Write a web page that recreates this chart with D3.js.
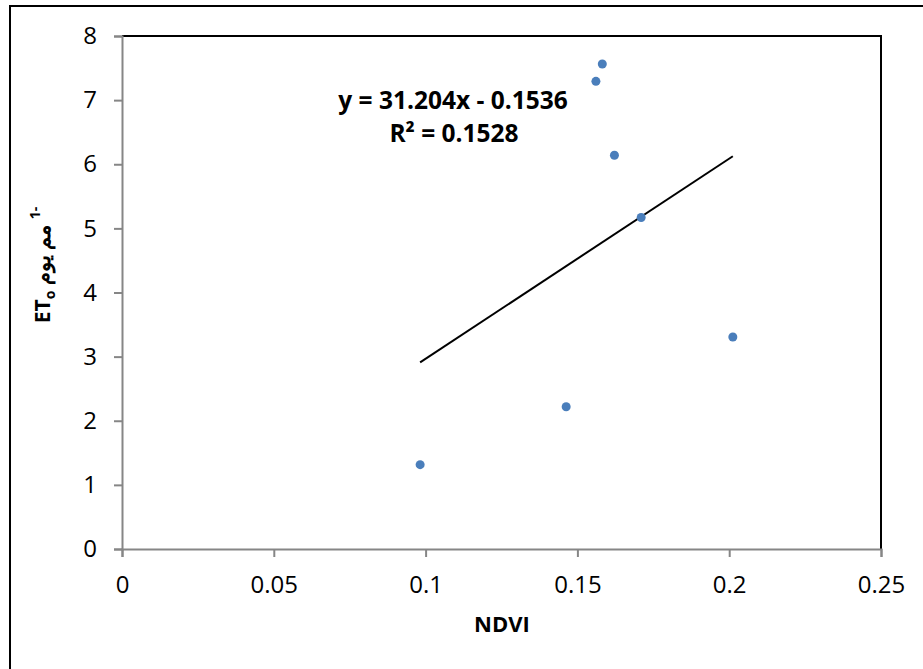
<!DOCTYPE html>
<html>
<head>
<meta charset="utf-8">
<script src="https://cdn.jsdelivr.net/npm/d3@7"></script>
<style>
  body { margin: 0; background: #fff; }
  text { font-family: "Open Sans", "Noto Sans", sans-serif; }
</style>
</head>
<body>
<svg></svg>
<script>
// ET0 vs NDVI scatter with linear trend
const width = 923;
const height = 669;

const ndvi = [0.0982, 0.1463, 0.2012, 0.171, 0.1622, 0.1561, 0.1582];
const et0 = [1.315, 2.219, 3.306, 5.17, 6.14, 7.293, 7.563];
const xTicks = [0, 0.05, 0.1, 0.15, 0.2, 0.25];
const yTicks = [0, 1, 2, 3, 4, 5, 6, 7, 8];
const slope = 31.204;
const intercept = -0.1536;

const plotLeft = 122, plotRight = 881, plotTop = 36, plotBottom = 549;

let svg = d3.select("svg")
    .attr("width", width)
    .attr("height", height)

// outer chart frame (cut off at right/bottom like the picture)
svg.append("rect")
    .attr("x", 10).attr("y", 6)
    .attr("width", 940).attr("height", 700)
    .attr("fill", "none")
    .attr("stroke", "#000")
    .attr("stroke-width", 2)

const x = d3.scaleLinear().domain([0, 0.25]).range([plotLeft, plotRight]);
const y = d3.scaleLinear().domain([0, 8]).range([plotBottom, plotTop]);

// plot area top/right border
svg.append("path")
    .attr("d", `M${plotLeft},${plotTop}H${plotRight}V${plotBottom}`)
    .attr("fill", "none")
    .attr("stroke", "#000")
    .attr("stroke-width", 2)

const xAxis = svg.append("g")
    .attr("transform", `translate(0,${plotBottom})`)
    .call(d3.axisBottom(x).tickValues(xTicks).tickSize(8).tickPadding(19)
        .tickFormat(d => String(+d.toFixed(2))));

const yAxis = svg.append("g")
    .attr("transform", `translate(${plotLeft},0)`)
    .call(d3.axisLeft(y).tickValues(yTicks).tickSize(8).tickPadding(17));

[xAxis, yAxis].forEach(g => {
    g.select(".domain").attr("stroke", "#868686").attr("stroke-width", 2);
    g.selectAll(".tick line").attr("stroke", "#868686").attr("stroke-width", 2);
    g.selectAll(".tick text")
        .attr("fill", "#000")
        .style("font-size", "24px")
        .style("font-family", "'Open Sans', sans-serif");
});

// trendline over the data range
const xMin = d3.min(ndvi), xMax = d3.max(ndvi);
svg.append("line")
    .attr("x1", x(xMin)).attr("y1", y(slope * xMin + intercept))
    .attr("x2", x(xMax)).attr("y2", y(slope * xMax + intercept))
    .attr("stroke", "#000")
    .attr("stroke-width", 2)

svg.selectAll("circle.pt")
    .data(ndvi)
    .enter().append("circle")
    .attr("class", "pt")
    .attr("cx", d => x(d))
    .attr("cy", (d, i) => y(et0[i]))
    .attr("r", 4.5)
    .attr("fill", "#4a7ebb")

// equation
const eq = svg.append("text")
    .attr("x", 453).attr("text-anchor", "middle")
    .style("font-size", "24.5px").style("font-weight", "bold")
eq.append("tspan").attr("x", 453).attr("y", 109).text("y = 31.204x - 0.1536");
eq.append("tspan").attr("x", 454).attr("y", 142).text("R² = 0.1528");

// x label
svg.append("text")
    .attr("x", 502).attr("y", 632)
    .attr("text-anchor", "middle")
    .style("font-size", "22px").style("font-weight", "bold")
    .text("NDVI")

// y label
const yl = svg.append("text")
    .attr("transform", "translate(50,265) rotate(-90)")
    .attr("text-anchor", "middle")
    .attr("direction", "ltr")
    .style("font-size", "21px").style("font-weight", "bold")
yl.append("tspan").text("ET");
yl.append("tspan").attr("dy", 5).style("font-size", "14px").text("o");
yl.append("tspan").attr("dy", -5).text(" مم يوم ");
yl.append("tspan").attr("dy", -10).style("font-size", "14px").text("\u200E1-");
</script>
</body>
</html>
